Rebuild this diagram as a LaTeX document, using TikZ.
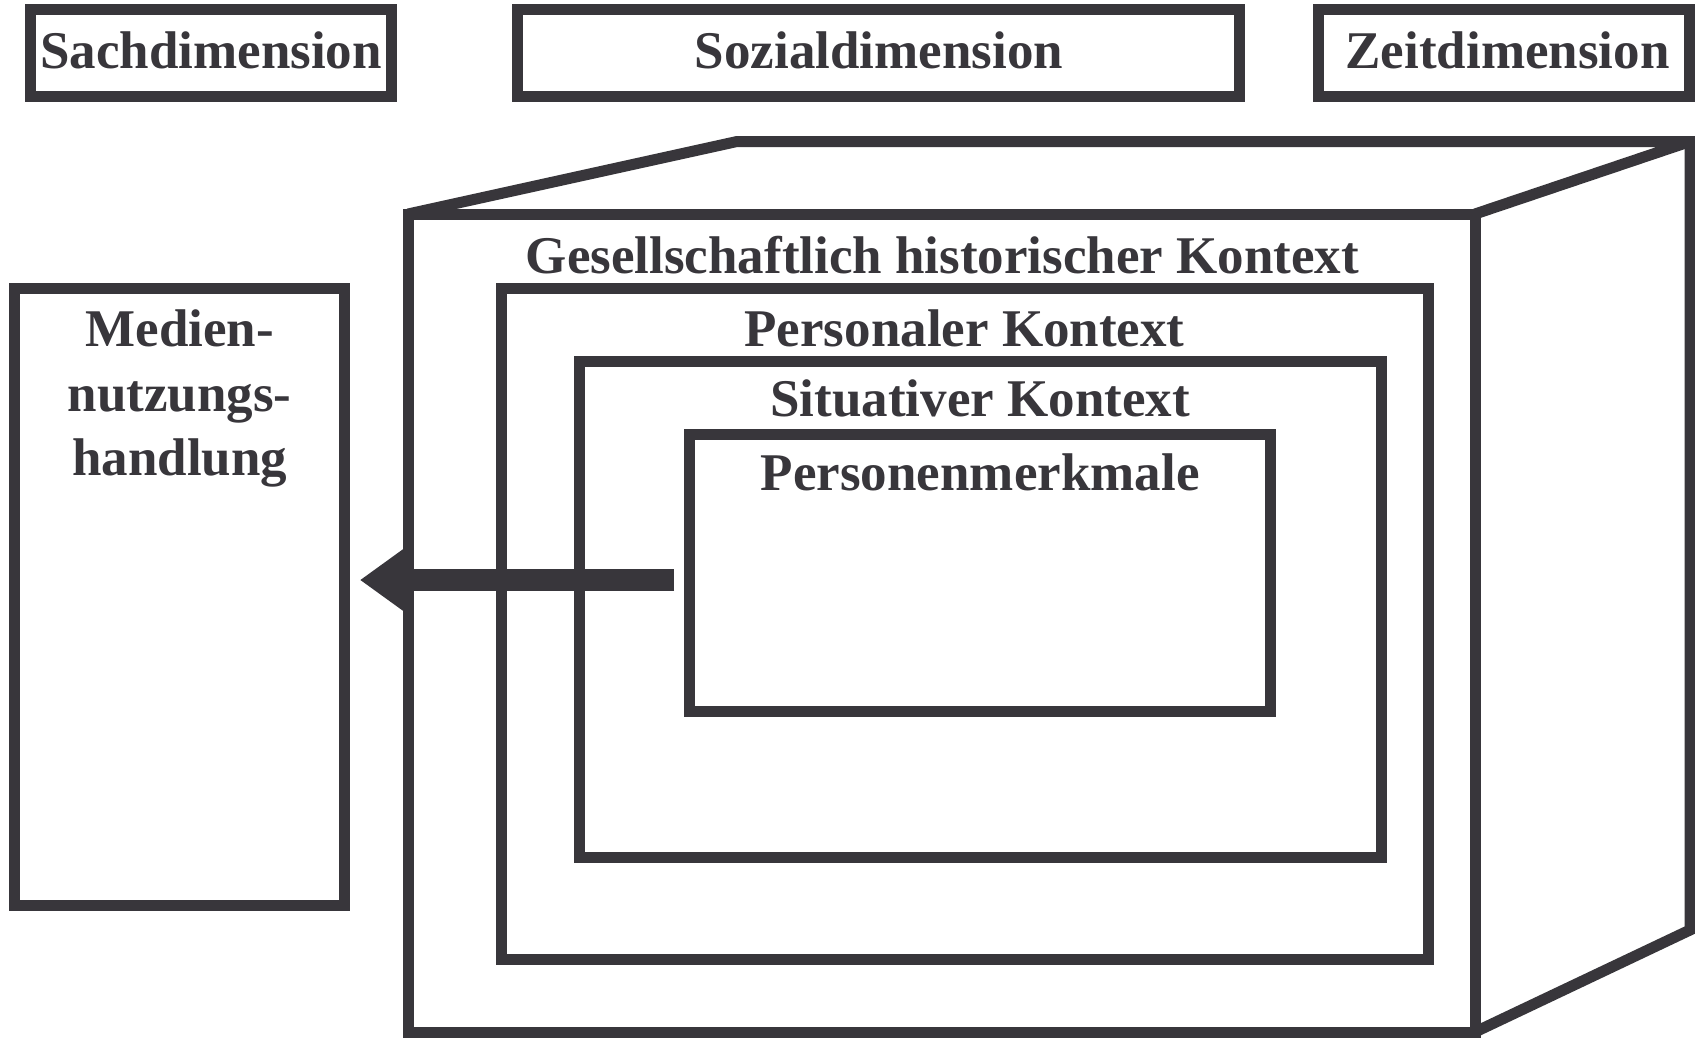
\documentclass[tikz,border=0pt]{standalone}
\usepackage{fontspec}
\setmainfont{Liberation Serif}
\usetikzlibrary{arrows.meta}
\definecolor{ink}{RGB}{56,54,59}
\begin{document}
\begin{tikzpicture}[x=1pt,y=-1pt,
  frame/.style={draw=ink, line width=11pt, inner sep=0pt, outer sep=0pt},
  edge3d/.style={draw=ink, line width=11pt, line join=miter},
  caption/.style={text=ink, font=\fontsize{53}{60}\selectfont\bfseries, inner sep=0pt, anchor=base},
  flow/.style={draw=ink, line width=22pt, -{Triangle[length=47pt,width=64pt]}},
]
\useasboundingbox[fill=white] (0,0) rectangle (1695,1037);

% three dimensions along the top
\node[frame, minimum width=361pt,   minimum height=86.5pt] (sach)  at (211,52.75) {};
\node[frame, minimum width=722pt,   minimum height=86.5pt] (sozial) at (878,52.75) {};
\node[frame, minimum width=371.5pt, minimum height=86.5pt] (zeit)  at (1503.75,52.75) {};
\node[caption] (sachtxt)   at (211,68.5)     {Sachdimension};
\node[caption] (sozialtxt) at (879,68.5)     {Sozialdimension};
\node[caption] (zeittxt)   at (1507.5,68.5)  {Zeitdimension};

% context cube: back edges
\coordinate (btl) at (737,141.5);
\coordinate (btr) at (1690,141.5);
\coordinate (bbr) at (1690,930);
\node[frame, minimum width=1067pt, minimum height=818pt] (ctx) at (941.5,623) {};
\path[edge3d] (ctx.north east) -- (btr) -- (btl) -- (ctx.north west);
\path[edge3d] (btr) -- (bbr) -- (ctx.south east);

% nested contexts
\node[frame, minimum width=927pt,   minimum height=671.5pt] (pers) at (964.5,623.75) {};
\node[frame, minimum width=801.5pt, minimum height=496.5pt] (sit)  at (980.25,609.25) {};
\node[frame, minimum width=581pt,   minimum height=277.7pt] (pm)   at (980.2,572.85) {};

\node[caption] (ctxtxt)  at (942.5,273) {Gesellschaftlich historischer Kontext};
\node[caption] (perstxt) at (964.5,346) {Personaler Kontext};
\node[caption] (sittxt)  at (980.25,416) {Situativer Kontext};
\node[caption] (pmtxt)   at (980.2,490) {Personenmerkmale};

% media use box
\node[frame, minimum width=330pt, minimum height=617pt] (med) at (179.7,596.5) {};
\node[caption] (medA) at (179.7,346.5) {Medien-};
\node[caption] (medB) at (179.7,411.5) {nutzungs-};
\node[caption] (medC) at (179.7,475.5) {handlung};

% influence arrow
\coordinate (ay) at (0,580);
\draw[flow, shorten <=15.7pt, shorten >=15.3pt] (pm.west |- ay) -- (med.east |- ay);
\end{tikzpicture}
\end{document}
